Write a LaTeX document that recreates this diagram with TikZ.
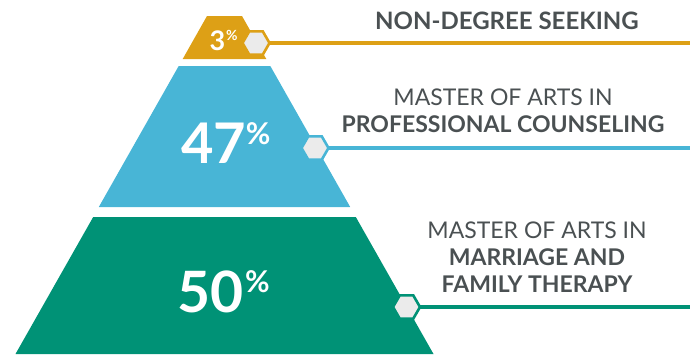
\documentclass[tikz,border=0pt]{standalone}
\usepackage{fontspec}
\setmainfont{Lato}
\usetikzlibrary{shapes.geometric}
\definecolor{cgold}{HTML}{DDA016}
\definecolor{cblue}{HTML}{48B5D6}
\definecolor{cgreen}{HTML}{009276}
\definecolor{chex}{HTML}{EBEBEB}
\definecolor{ctext}{HTML}{4A5052}
\tikzset{
  hexnode/.style={regular polygon, regular polygon sides=6, minimum size=27pt, inner sep=0pt, outer sep=0pt, fill=chex, line width=2.6pt},
  leader/.style={line width=4pt},
  numtext/.style={text=white, inner sep=0pt, outer sep=0pt, font=\bfseries\fontsize{#1}{#1}\selectfont},
  lbl/.style={text=ctext, inner sep=0pt, align=center, font=\fontsize{23}{27}\selectfont},
}
\begin{document}
\begin{tikzpicture}[x=1pt,y=-1pt]
\useasboundingbox (0,0) rectangle (690,354);
% layers
\fill[cgold] (207.0,16) -- (242.0,16) -- (266.3,59) -- (182.7,59) -- cycle;
\fill[cblue] (178.7,66) -- (270.3,66) -- (350.2,207) -- (98.8,207) -- cycle;
\fill[cgreen] (93.2,217) -- (355.8,217) -- (433.5,354) -- (15.5,354) -- cycle;
% leaders
\node[hexnode, draw=cgold] (hg) at (256,43) {};
\coordinate (eg) at (690,43);
\draw[leader, cgold] (hg.east) -- (eg);
\node[hexnode, draw=cblue] (hb) at (315,148) {};
\coordinate (eb) at (690,148);
\draw[leader, cblue] (hb.east) -- (eb);
\node[hexnode, draw=cgreen] (hn) at (406.5,307) {};
\coordinate (en) at (690,307);
\draw[leader, cgreen] (hn.east) -- (en);
% percentages
\node[numtext=27, anchor=base west] (n3) at (209.5,50) {3};
\node[numtext=14, anchor=north west] (p3) at ([xshift=1pt]n3.north east) {\%};
\node[numtext=56, anchor=base west] (n47) at (181,163) {47};
\node[numtext=30, anchor=north west] (p47) at ([xshift=0pt]n47.north east) {\%};
\node[numtext=57, anchor=base west] (n50) at (177,312) {50};
\node[numtext=30, anchor=north west] (p50) at ([xshift=2pt]n50.north east) {\%};
% labels
\node[lbl, anchor=base, font=\fontsize{24}{27}\selectfont] (t1) at (507,29) {\bfseries NON-DEGREE SEEKING};
\node[lbl, anchor=base] (t2) at (503,132) {MASTER OF ARTS IN\\\bfseries PROFESSIONAL COUNSELING};
\node[lbl, anchor=base] (t3) at (537,292) {MASTER OF ARTS IN\\\bfseries MARRIAGE AND\\\bfseries FAMILY THERAPY};
\end{tikzpicture}
\end{document}
